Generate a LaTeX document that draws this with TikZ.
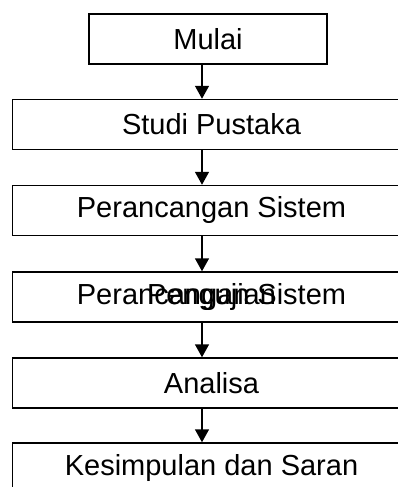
\documentclass[tikz,border=0pt]{standalone}
\usepackage{fontspec}
\setmainfont{Liberation Sans}
\usetikzlibrary{arrows.meta}
\begin{document}
\begin{tikzpicture}[x=1pt,y=-1pt,
  box/.style={draw=black,line width=1.5pt,inner sep=0pt,
    minimum height=50pt,font=\fontsize{29}{34}\selectfont},
  wide/.style={box,minimum width=398pt},
  flow/.style={draw=black,line width=1.5pt,
    -{Triangle[width=14pt,length=13pt]}}]
\useasboundingbox (0,0) rectangle (398,487);
\clip (0,0) rectangle (398,487);
% column of the connectors
\coordinate (ax) at (202,0);
% process boxes
\node[box,minimum width=238pt] (mulai) at (208,39) {Mulai};
\node[wide] (studi) at (211.5,124.5) {Studi Pustaka};
\node[wide] (rancang) at (211.5,210.5) {Perancangan Sistem};
\node[wide] (uji) at (211.5,297) {Perancangan Sistem};
\node[font=\fontsize{29}{34}\selectfont,inner sep=0pt] (ujilabel) at (uji.center) {Pengujian};
\node[wide] (analisa) at (211.5,383) {Analisa};
\node[wide] (simpul) at (211.5,468) {Kesimpulan dan Saran};
% connectors
\draw[flow] (mulai.south -| ax) -- (studi.north -| ax);
\draw[flow] (studi.south -| ax) -- (rancang.north -| ax);
\draw[flow] (rancang.south -| ax) -- (uji.north -| ax);
\draw[flow] (uji.south -| ax) -- (analisa.north -| ax);
\draw[flow] (analisa.south -| ax) -- (simpul.north -| ax);
\end{tikzpicture}
\end{document}
